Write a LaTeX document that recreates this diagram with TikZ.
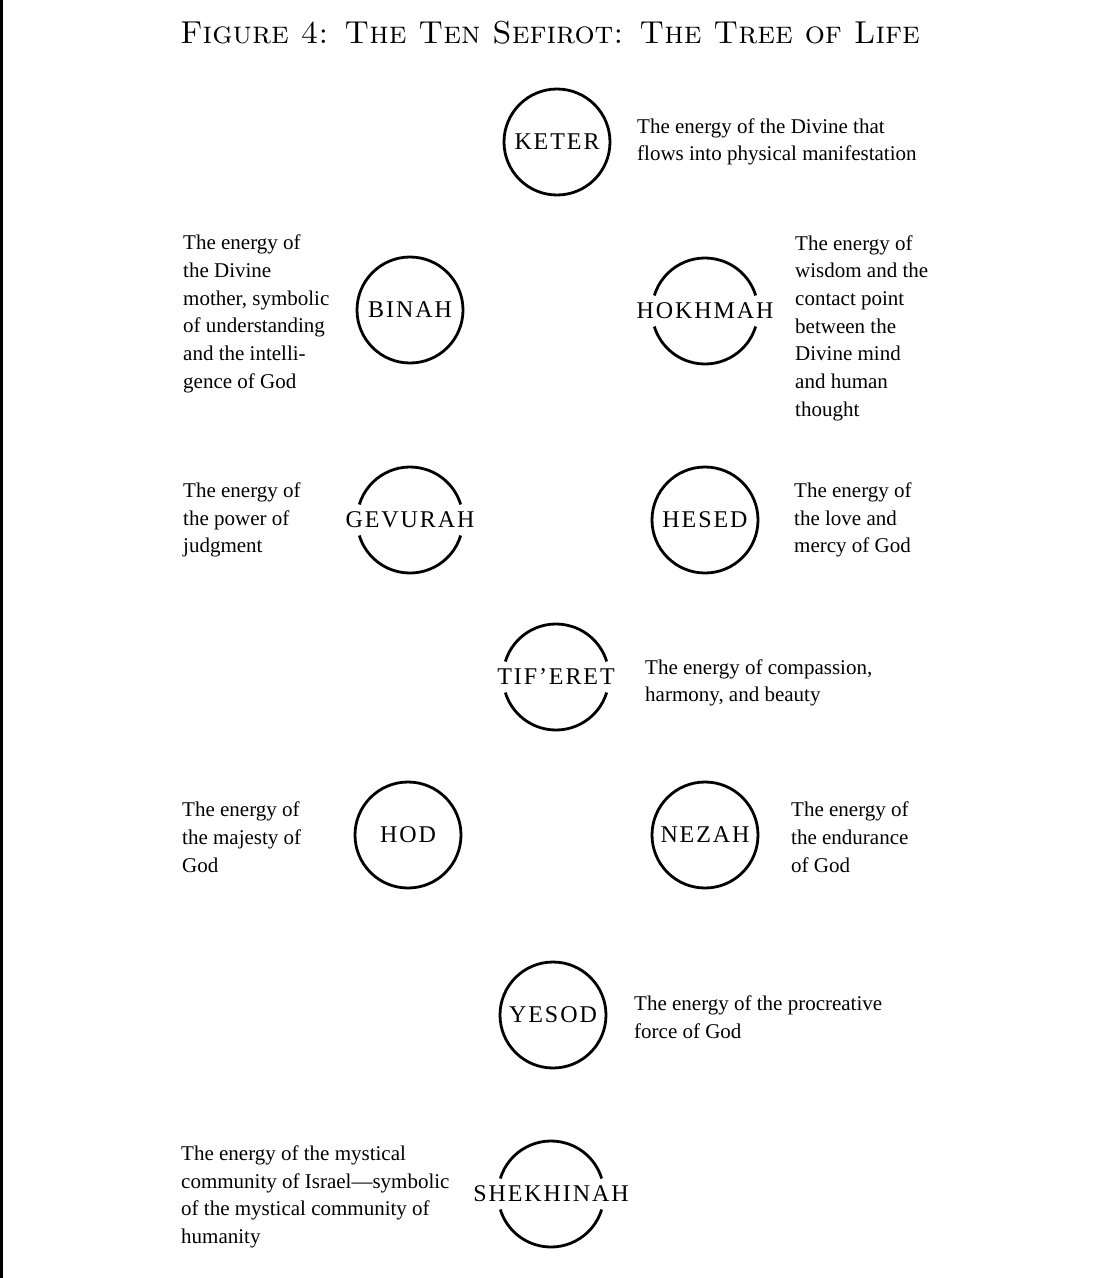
\documentclass[tikz,border=0pt]{standalone}
\usepackage{fontspec}
\usepackage{tikz}
\newfontfamily\descfont{Liberation Serif}
\newfontfamily\sefirafont[LetterSpace=8]{Liberation Serif}

\begin{document}
\begin{tikzpicture}[x=1pt,y=-1pt,
                    sefira/.style={font=\sefirafont\fontsize{24}{24}\selectfont,inner sep=0pt},
                    desc/.style={font=\descfont\fontsize{21}{27.7}\selectfont,align=left,anchor=west,inner sep=0pt},
                    ring/.style={line width=2.8pt}]

  \useasboundingbox (0,0) rectangle (1099,1278);
  \draw[line width=2.5pt] (1.5,0) -- (1.5,1278);

  \node[font=\fontsize{31.7}{31.7}\selectfont] (title) at (550,33) {\textsc{Figure 4: The Ten Sefirot: The Tree of Life}};

  \node[sefira] (1) at (557,142) {KETER};
  \node[sefira] (2) at (705,311) {HOKHMAH};
  \node[sefira] (3) at (410,310) {BINAH};
  \node[sefira] (4) at (705,520) {HESED};
  \node[sefira] (5) at (410,520) {GEVURAH};
  \node[sefira] (6) at (556,677) {TIF’ERET};
  \node[sefira] (7) at (705,835) {NEZAH};
  \node[sefira] (8) at (408,835) {HOD};
  \node[sefira] (9) at (553,1015) {YESOD};
  \node[sefira] (10) at (551,1194) {SHEKHINAH};

  % whole rings
  \foreach \n in {1,3,4,7,8,9}
    \draw[ring] (\n.center) circle (53);
  % rings cut open for the longer names
  \foreach \n in {2,5,6,10} {
    \draw[ring] (\n.center) ++(17:53) arc (17:163:53);
    \draw[ring] (\n.center) ++(197:53) arc (197:343:53);
  }

  \node[desc] (t1) at (637,142) {The energy of the Divine that\\flows into physical manifestation};
  \node[desc] (t2) at (795,328) {The energy of\\wisdom and the\\contact point\\between the\\Divine mind\\and human\\thought};
  \node[desc] (t3) at (183,314) {The energy of\\the Divine\\mother, symbolic\\of understanding\\and the intelli-\\gence of God};
  \node[desc] (t4) at (794,520) {The energy of\\the love and\\mercy of God};
  \node[desc] (t5) at (183,520) {The energy of\\the power of\\judgment};
  \node[desc] (t6) at (645,683) {The energy of compassion,\\harmony, and beauty};
  \node[desc] (t7) at (791,837) {The energy of\\the endurance\\of God};
  \node[desc] (t8) at (182,837) {The energy of\\the majesty of\\God};
  \node[desc] (t9) at (634,1017) {The energy of the procreative\\force of God};
  \node[desc] (t10) at (181,1197) {The energy of the mystical\\community of Israel—symbolic\\of the mystical community of\\humanity};
\end{tikzpicture}
\end{document}
